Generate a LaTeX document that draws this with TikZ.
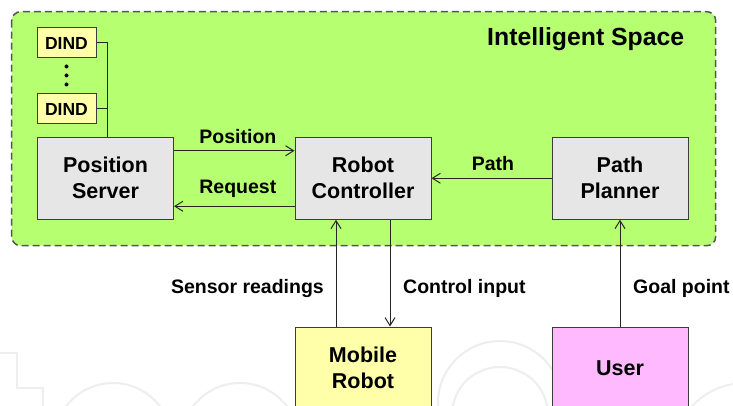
\documentclass[tikz,border=0pt]{standalone}
\usepackage{fontspec}
\setmainfont{Liberation Sans}
\usetikzlibrary{arrows.meta}

\definecolor{spacegreen}{RGB}{182,255,112}
\definecolor{boxgray}{RGB}{230,230,230}
\definecolor{dindyellow}{RGB}{255,255,170}
\definecolor{robotyellow}{RGB}{255,255,170}
\definecolor{userpink}{RGB}{255,185,255}
\definecolor{edgegray}{RGB}{60,60,60}
\definecolor{dashgray}{RGB}{85,85,85}
\definecolor{markgray}{RGB}{238,238,238}

\tikzset{
  blockbox/.style={draw=edgegray, line width=1pt, fill=boxgray,
    minimum width=136pt, minimum height=82pt, inner sep=0pt,
    align=center, font=\fontsize{21.5}{26}\selectfont\bfseries},
  dindbox/.style={draw=edgegray, line width=1pt, fill=dindyellow,
    minimum width=59pt, minimum height=30pt, inner sep=0pt,
    font=\fontsize{17.5}{20}\selectfont\bfseries},
  flowlabel/.style={inner sep=0pt, font=\fontsize{19.5}{22}\selectfont\bfseries},
  link/.style={line width=1pt, draw=black!85},
  flow/.style={link, -{Straight Barb[length=8pt,width=10pt,line width=1pt]}},
  emblem/.style={draw=markgray, line width=2pt}
}

\begin{document}
\begin{tikzpicture}[x=1pt, y=-1pt]
  \clip (0,0) rectangle (733,406);
  \fill[white] (0,0) rectangle (733,406);

  % faint background emblem
  \draw[emblem] (-5,352.5) -- (17,352.5) -- (17,388) -- (43,388) -- (43,420);
  \draw[emblem] (113,442) circle[radius=59];
  \draw[emblem] (240,442) circle[radius=59];
  \draw[emblem] (500,403) circle[radius=62];
  \draw[emblem] (500,415) circle[radius=48];
  \draw[emblem] (745,455) circle[radius=72];

  % intelligent space region
  \draw[draw=dashgray, line width=1.5pt, fill=spacegreen,
        dash pattern=on 7pt off 4pt, rounded corners=9pt]
    (11.7,11.7) rectangle (715.7,245.7);
  \node[anchor=base west, inner sep=0pt,
        font=\fontsize{24.8}{28}\selectfont\bfseries] (title) at (487,46) {Intelligent Space};

  % blocks
  \node[blockbox] (srv)  at (105.5,178.25) {Position\\Server};
  \node[blockbox] (ctl)  at (363,178.25)   {Robot\\Controller};
  \node[blockbox] (pp)   at (620,178.25)   {Path\\Planner};
  \node[blockbox, fill=robotyellow] (mr)   at (363,368) {Mobile\\Robot};
  \node[blockbox, fill=userpink]    (user) at (620,368) {User};

  % distributed intelligent network devices
  \node[dindbox] (d1) at (66.5,43)  {DIND};
  \node[dindbox] (d2) at (66.5,109) {DIND};
  \foreach \yy in {66.5,75.5,84.5}
    \fill (66.5,\yy) circle[radius=2pt];

  \coordinate (bus) at ([xshift=1.5pt]srv.north);
  \draw[link] (d1.east) -| (bus);
  \draw[link] (d2.east) -- (d2.east -| bus);

  % data flows
  \draw[flow] ([yshift=-14pt]srv.north east) -- ([yshift=-14pt]ctl.north west)
    node[flowlabel, anchor=base, pos=0.53, yshift=7pt] (lpos) {Position};
  \draw[flow] ([yshift=13.5pt]ctl.south west) -- ([yshift=13.5pt]srv.south east)
    node[flowlabel, anchor=base, pos=0.47, yshift=12.5pt] (lreq) {Request};
  \draw[flow] (pp.west) -- (ctl.east);
  \node[flowlabel, anchor=base] (lpath) at (493,171) {Path};

  \draw[flow] ([xshift=-27pt]mr.north) -- ([xshift=-27pt]ctl.south);
  \draw[flow] ([xshift=27pt]ctl.south) -- ([xshift=27pt]mr.north);
  \draw[flow] (user.north) -- (pp.south);

  \node[flowlabel, anchor=base east] (lsens) at (324,293.5) {Sensor readings};
  \node[flowlabel, anchor=base west] (lctl)  at (403,293.5) {Control input};
  \node[flowlabel, anchor=base west] (lgoal) at (633,293.5) {Goal point};
\end{tikzpicture}
\end{document}
